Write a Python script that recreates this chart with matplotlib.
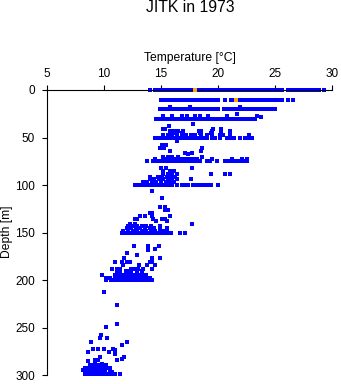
import matplotlib
matplotlib.use("Agg")
import matplotlib.pyplot as plt

plt.rcParams["font.family"] = ["Liberation Sans", "DejaVu Sans"]

# dense rows near the surface: (depth, temperatures)
surface_temp = [14.0, 14.5, 14.8, 15.1, 15.4, 15.7, 16.0, 16.3, 16.6, 16.9, 17.2, 17.5,
                17.8, 18.1, 18.4, 18.7, 19.0, 19.3, 19.6, 19.9, 20.2, 20.5, 20.8, 21.1,
                21.4, 21.7, 22.0, 22.3, 22.6, 22.9, 23.2, 23.5, 23.8, 24.1, 24.4, 24.7,
                25.0, 25.3, 25.6, 26.1, 26.3, 26.6, 26.9, 27.2, 27.5, 27.8, 28.1, 28.4,
                28.7, 28.9, 29.3]
row10_temp = [15.0, 15.3, 15.6, 15.9, 16.2, 16.5, 16.8, 17.1, 17.4, 17.7, 18.0, 18.3,
              18.6, 18.9, 19.2, 19.5, 19.8, 20.0, 20.6, 21.1, 21.4, 21.7, 22.0, 22.3,
              22.6, 22.9, 23.2, 23.5, 23.8, 24.1, 24.4, 24.7, 25.0, 25.3, 25.6, 26.1, 26.6]
row20_temp = [14.9, 15.2, 15.5, 15.8, 16.1, 16.4, 16.7, 17.0, 17.3, 17.6, 17.9, 18.2,
              18.5, 18.8, 19.1, 19.4, 19.7, 20.0, 20.5, 20.8, 21.1, 21.4, 21.7, 22.0,
              22.3, 22.6, 22.9, 23.2, 23.5, 23.8, 24.1, 24.4, 24.7, 25.0]
row30_temp = [14.6, 14.9, 15.2, 15.5, 15.8, 16.1, 16.4, 16.7, 17.0, 17.3, 17.6, 17.9,
              18.2, 18.5, 18.8, 19.1, 19.4, 19.7, 20.0, 20.3, 20.6, 20.9, 21.2, 21.5,
              21.8, 22.1, 22.4, 22.7, 23.0, 23.25]

# highlighted readings
orange_temp = [18.0, 21.55]
orange_depth = [0, 10]

# scattered readings, grouped by depth
upper_rows = [
    (18, [15.8, 17.5, 21.9]),
    (25.6, [21.7]),
    (27, [15.2, 16.0, 16.8, 17.3, 18.0, 18.4, 19.1, 20.8]),
    (27.7, [23.4]), (28.8, [23.8]),
    (35.5, [17.8]), (38.3, [15.7]),
    (41, [15.2, 15.35, 19.6, 20.3]),
    (43.5, [15.8, 16.1, 16.5, 16.9, 18.3, 18.5, 19.5, 20.3, 21.05]),
    (45.6, [15.8, 16.2, 16.8, 18.4, 19.4, 21.05]),
    (47.4, [15.2, 15.6, 16.0, 16.4, 16.8, 17.2, 17.6, 18.0, 18.5, 19.0, 19.5, 20.2,
            20.4, 21.05, 22.7]),
    (50, [14.5, 14.8, 15.1, 15.4, 15.7, 16.0, 16.3, 16.6, 16.9, 17.2, 17.5, 17.8, 18.1,
          18.4, 18.7, 19.0, 19.45, 19.7, 20.2, 20.8, 21.05, 21.4, 21.9, 22.4, 22.6,
          22.95]),
    (53.7, [16.4]),
    (58, [15.1, 15.4]),
    (61, [14.9, 15.3, 18.6]),
    (64, [15.8, 18.5]),
    (66, [17.1, 17.7]), (67.7, [17.4]),
    (70, [15.2, 15.6, 16.0, 16.5, 18.6]),
    (73, [14.5, 15.2, 15.5, 15.8, 16.1, 16.4, 16.7, 17.0, 17.3, 17.6, 17.9, 18.2,
          19.45, 21.2, 22.1, 22.5]),
    (74.6, [13.75, 14.3, 14.6, 14.9, 15.2, 15.5, 15.8, 16.1, 16.4, 16.7, 17.0, 17.3,
            17.6, 17.9, 18.2, 18.4, 19.0, 19.3, 19.9, 20.6, 20.9, 21.2, 21.5, 21.8,
            22.2, 22.5]),
    (82, [15.0, 15.4, 17.7]),
    (85.3, [15.2, 15.8, 16.1]),
    (88.8, [15.2, 15.6, 16.0, 16.4, 19.4, 20.6, 21.05]),
    (91, [14.0, 14.7, 15.1, 15.5, 15.9, 16.2]),
    (94, [14.0, 14.4, 14.8, 15.2, 15.6, 16.0, 16.4, 17.6]),
    (96.5, [13.4, 13.8, 14.2, 14.6, 15.0, 15.4, 15.8, 16.1]),
    (99.5, [12.7, 13.0, 13.3, 13.6, 13.9, 14.2, 14.5, 14.8, 15.1, 15.4, 15.7, 16.0,
            16.4, 16.8, 17.1, 17.4, 17.8, 18.1, 18.4, 18.8, 19.1, 19.4, 20.0]),
]
middle_rows = [
    (106.5, [14.2]), (113.5, [15.1]),
    (123.5, [14.9, 15.35]),
    (126.3, [15.35, 15.6]),
    (129.8, [14.0, 14.2]),
    (132.6, [13.2, 13.6, 14.2, 15.8]),
    (136, [12.7, 12.9, 14.3, 15.1, 15.35]),
    (137.8, [14.6, 15.5]),
    (140.4, [12.3, 12.7, 17.7]),
    (142.5, [12.1, 12.5, 12.9, 13.3, 13.7, 14.1, 14.9]),
    (145.6, [12.0, 12.4, 12.8, 13.2, 13.6, 14.0, 14.4, 14.9, 15.5]),
    (148, [11.7, 12.1, 12.5, 12.9, 13.3, 13.7, 14.1, 14.5, 14.9, 15.3, 15.5]),
    (150, [11.55, 11.85, 12.15, 12.45, 12.75, 13.05, 13.35, 13.65, 13.95, 14.25,
           14.55, 14.85, 15.15, 15.45, 15.75, 15.9, 16.7, 17.1]),
    (164, [12.6, 13.9, 14.8]), (166.7, [14.5]), (168.5, [13.9]),
    (171, [12.0]), (173, [12.9]),
    (177, [11.75, 14.2, 14.9]),
    (180.7, [11.0, 11.55, 12.0, 12.3, 14.05, 14.2]),
    (184, [11.7, 13.1, 13.75, 14.5]),
    (187.7, [10.7, 11.1, 11.4, 12.4, 12.7, 13.0, 13.4, 14.2]),
    (190.5, [11.1, 11.4, 11.9, 12.2, 12.4, 12.9, 13.3]),
    (194.7, [9.8, 11.0, 11.3, 11.6, 11.9, 12.2, 12.5, 12.8, 13.1, 13.4, 13.7]),
    (196.5, [11.0, 11.4, 11.8, 12.3, 12.9, 13.5]),
    (198.2, [10.2, 10.5, 11.0, 11.3, 11.6, 11.9, 12.2, 12.5, 12.8, 13.1, 13.4, 13.7,
             14.0]),
    (200, [10.2, 10.6, 11.0, 11.3, 11.6, 11.9, 12.2, 12.5, 12.8, 13.1, 13.4, 13.7,
           14.0, 14.2]),
]
deep_rows = [
    (212.3, [10.0]), (226.3, [11.15]), (246.3, [11.15]), (249, [10.2]),
    (257.9, [9.7]), (260.4, [9.65, 10.3]),
    (265, [8.9, 12.0]), (267.7, [11.6]),
    (272, [9.06, 9.5, 10.0, 10.8]), (273.7, [11.0]),
    (276, [8.6, 10.4, 11.0]), (278, [11.0]),
    (280.7, [9.65, 11.75]), (282.5, [11.55]),
    (284.2, [9.2, 9.5, 11.1]), (285.3, [8.6]),
    (287.7, [9.2, 9.8]),
    (289.5, [8.8, 9.1, 9.4, 9.7, 10.0, 10.2]),
    (292, [8.35, 8.7, 9.0, 9.3, 9.6, 9.9, 10.2, 10.5]),
    (294, [8.2, 8.5, 8.8, 9.1, 9.4, 9.65, 10.1, 10.5]),
    (296.5, [8.5, 8.8, 9.1, 9.4, 9.7, 9.95, 10.7]),
    (299, [8.35, 8.6, 8.9, 9.2, 9.5, 9.8, 10.1, 10.4, 10.7, 11.0, 11.4]),
]

temps = surface_temp + row10_temp + row20_temp + row30_temp
depths = ([0] * len(surface_temp) + [10] * len(row10_temp)
          + [20] * len(row20_temp) + [30] * len(row30_temp))
for depth, row in upper_rows + middle_rows + deep_rows:
    temps += row
    depths += [depth] * len(row)

fig = plt.figure(figsize=(3.41, 3.84), dpi=100)
ax = fig.add_axes([47 / 341, 8.7 / 384, 285 / 341, 285.3 / 384])

ax.plot(temps, depths, "s", color="#0000ff", markersize=2.3, markeredgewidth=0,
        clip_on=False)
ax.plot(orange_temp, orange_depth, "s", color="#ffa500", markersize=2.3,
        markeredgewidth=0, clip_on=False, zorder=3)

ax.set_xlim(5, 30)
ax.set_ylim(300, 0)
ax.set_xticks([5, 10, 15, 20, 25, 30])
ax.set_yticks([0, 50, 100, 150, 200, 250, 300])
ax.xaxis.tick_top()
ax.xaxis.set_label_position("top")
for side in ["right", "bottom"]:
    ax.spines[side].set_visible(False)
for side in ["left", "top"]:
    ax.spines[side].set_linewidth(0.8)
ax.tick_params(axis="x", direction="out", length=3.5, width=0.8, labelsize=8.5, pad=4)
ax.tick_params(axis="y", direction="out", length=3.5, width=0.8, labelsize=8.5, pad=5)
ax.set_xlabel("Temperature [°C]", fontsize=8.7, labelpad=5)

fig.text(190 / 341, 1 - 8 / 384, "JITK in 1973", ha="center", va="center", fontsize=11.3)
fig.text(7 / 341, 1 - 232 / 384, "Depth [m]", ha="center", va="center",
         rotation=90, fontsize=8.7)

fig.savefig("out.png", dpi=100)
